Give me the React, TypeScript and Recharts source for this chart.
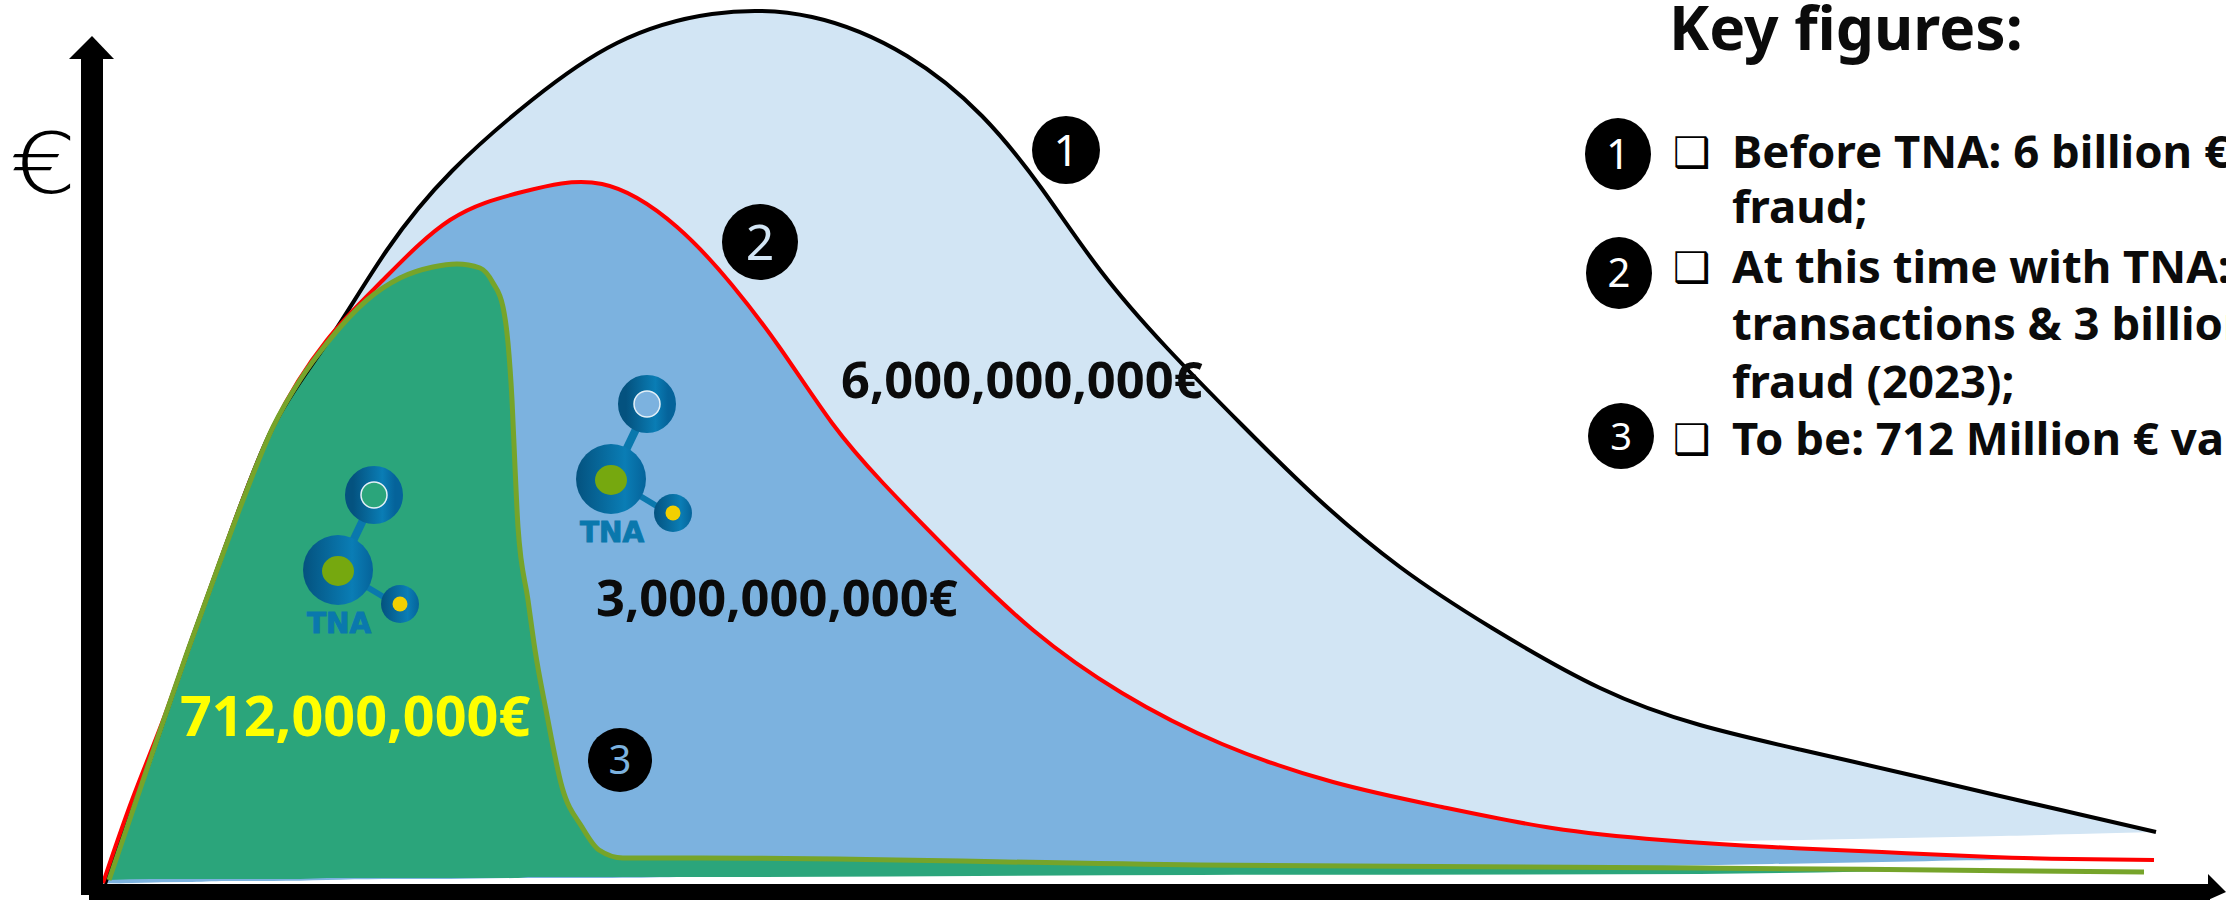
import { Area, ComposedChart, Line, ReferenceLine, XAxis, YAxis } from 'recharts';

const WIDTH = 2226;
const HEIGHT = 900;

// Time runs along x, fraud value up y (arbitrary units, the source has no scale).
const beforeTime = [13, 58, 96, 135, 181, 235, 295, 360, 440, 525, 620, 720, 815, 890, 950, 1008, 1075, 1150, 1225, 1308, 1400, 1508, 1608, 1710, 1810, 1908, 1986, 2064];
const beforeValue = [8, 132, 242, 350, 465, 549, 642, 721, 792, 849, 878, 875, 836, 776, 703, 622, 544, 467, 394, 325, 264, 204, 167, 142, 119, 96, 78, 60];
const beforeFloor = [8, 9, 10, 12, 13, 14, 16, 17, 19, 21, 24, 26, 28, 31, 33, 34, 37, 39, 41, 42, 44, 46, 50, 52, 54, 56, 58, 60];

const nowTime = [11, 40, 70, 96, 135, 181, 235, 291, 358, 430, 510, 585, 640, 688, 740, 791, 860, 941, 1030, 1130, 1241, 1350, 1460, 1570, 1680, 1790, 1900, 1980, 2062];
const nowValue = [9, 92, 169, 242, 350, 465, 552, 612, 672, 700, 708, 665, 607, 544, 469, 409, 338, 262, 199, 148, 110, 85, 64, 52, 45, 40, 35, 33, 32];
const nowFloor = [9, 9, 10, 10, 11, 11, 12, 13, 13, 14, 14, 15, 16, 16, 17, 17, 18, 19, 20, 21, 22, 23, 25, 26, 28, 30, 32, 32, 32];

const tobeTime = [17, 58, 96, 125, 151, 181, 208, 235, 275, 308, 341, 365, 388, 401, 411, 416, 420, 423, 426, 436, 443, 454, 470, 490, 507, 531, 608, 1108, 1608, 1843, 2052];
const tobeValue = [12, 132, 242, 322, 392, 465, 512, 549, 592, 614, 625, 628, 624, 609, 585, 549, 492, 425, 365, 292, 242, 182, 105, 65, 42, 34, 34, 27, 24, 22, 20];
const tobeFloor = [12, 13, 13, 13, 13, 13, 13, 14, 14, 14, 14, 14, 14, 14, 14, 14, 14, 14, 14, 15, 15, 15, 15, 15, 15, 15, 15, 17, 18, 21, 20];

const toRows = (time: number[], value: number[], floor: number[]) =>
  time.map((t, i) => ({ t, value: value[i], floor: floor[i] }));

const beforeRows = toRows(beforeTime, beforeValue, beforeFloor);
const nowRows = toRows(nowTime, nowValue, nowFloor);
const tobeRows = toRows(tobeTime, tobeValue, tobeFloor);

const band = (d: { value: number; floor: number }) => [d.floor, d.value];

const bodyFont = '"Noto Sans", sans-serif';

function Badge({ cx, cy, rx, ry, n, color = '#fff', size = 42 }: { cx: number; cy: number; rx: number; ry: number; n: string; color?: string; size?: number }) {
  return (
    <g>
      <ellipse cx={cx} cy={cy} rx={rx} ry={ry} fill="#000" />
      <text x={cx} y={cy + size * 0.357} textAnchor="middle" fontSize={size} fill={color} fontFamily={bodyFont}>
        {n}
      </text>
    </g>
  );
}

function Logo({ dx, dy }: { dx: number; dy: number }) {
  return (
    <g transform={`translate(${dx} ${dy})`}>
      <line x1={626} y1={450} x2={638} y2={425} stroke="#0a78ad" strokeWidth={8} />
      <line x1={640} y1={496} x2={660} y2={508} stroke="#0a78ad" strokeWidth={6} />
      <circle cx={647} cy={404} r={21} fill="none" stroke="url(#tnaBlue)" strokeWidth={16} />
      <circle cx={647} cy={404} r={13} fill="none" stroke="#e4f0f8" strokeWidth={1.5} />
      <circle cx={611} cy={479} r={35} fill="url(#tnaBlue)" />
      <ellipse cx={611} cy={480} rx={16} ry={15} fill="#76a80f" />
      <circle cx={673} cy={513} r={19} fill="url(#tnaBlue)" />
      <circle cx={673} cy={513} r={7.5} fill="#f2d000" />
      <text x={612} y={542} textAnchor="middle" fontSize={28} fontWeight={700} fill="#0a78ad" stroke="#0a78ad" strokeWidth={1} fontFamily="'DejaVu Sans', sans-serif">
        TNA
      </text>
    </g>
  );
}

export default function App() {
  return (
    <div style={{ position: 'absolute', left: 0, top: 0, width: WIDTH, height: HEIGHT, overflow: 'hidden', background: '#fff' }}>
      <ComposedChart width={WIDTH} height={HEIGHT} margin={{ top: 0, right: 0, bottom: 8, left: 92 }}>
        <XAxis type="number" dataKey="t" domain={[0, 2134]} hide />
        <YAxis type="number" domain={[0, 892]} hide />
        <Area data={beforeRows} dataKey={band} type="natural" fill="#d2e5f4" fillOpacity={1} stroke="none" isAnimationActive={false} />
        <Area data={nowRows} dataKey={band} type="natural" fill="#7cb2df" fillOpacity={1} stroke="none" isAnimationActive={false} />
        <Line data={beforeRows} dataKey="value" type="natural" stroke="#000" strokeWidth={4} dot={false} isAnimationActive={false} />
        <Line data={nowRows} dataKey="value" type="natural" stroke="#ff0000" strokeWidth={4} dot={false} isAnimationActive={false} />
        <Area data={tobeRows} dataKey={band} type="monotone" fill="#2ba57b" fillOpacity={1} stroke="none" isAnimationActive={false} />
        <Line data={tobeRows} dataKey="value" type="monotone" stroke="#76a42a" strokeWidth={5} dot={false} isAnimationActive={false} />
        <ReferenceLine segment={[{ x: 0, y: -3 }, { x: 0, y: 833 }]} stroke="#000" strokeWidth={22} ifOverflow="visible" />
        <ReferenceLine segment={[{ x: -3, y: 0 }, { x: 2118, y: 0 }]} stroke="#000" strokeWidth={16} ifOverflow="visible" />
      </ComposedChart>

      <svg width={WIDTH} height={HEIGHT} style={{ position: 'absolute', left: 0, top: 0 }}>
        <defs>
          <linearGradient id="tnaBlue" x1="0" x2="1" y1="0" y2="0">
            <stop offset="0" stopColor="#04527f" />
            <stop offset="0.7" stopColor="#0a7db5" />
            <stop offset="1" stopColor="#05639a" />
          </linearGradient>
        </defs>
        <polygon points="92,36 114,59 69,59" fill="#000" />
        <polygon points="2208,874 2226,892 2208,900" fill="#000" />
        <text transform="translate(10 193) scale(1.25 1)" fontSize={84} fontWeight={200} fill="#000" fontFamily="'DejaVu Sans', sans-serif">€</text>

        <Logo dx={0} dy={0} />
        <Logo dx={-273} dy={91} />

        <Badge cx={1066} cy={150} rx={34} ry={34} n="1" size={44} />
        <Badge cx={760} cy={242} rx={38} ry={38} n="2" color="#d2e5f4" size={50} />
        <Badge cx={620} cy={760} rx={32} ry={32} n="3" color="#7cb2df" size={40} />

        <g fontFamily={bodyFont} fontWeight={700}>
          <text x={841} y={398} fontSize={50.6} fill="#0b0b0b">6,000,000,000€</text>
          <text x={596} y={616} fontSize={50.6} fill="#0b0b0b">3,000,000,000€</text>
          <text x={180} y={736} fontSize={55.7} fill="#ffff00">712,000,000€</text>

          <text x={1669} y={50} fontSize={60.5} fill="#0b0b0b">Key figures:</text>
          <text x={1732} y={168} fontSize={45.5} fill="#0b0b0b">Before TNA: 6 billion € value</text>
          <text x={1732} y={223} fontSize={45.5} fill="#0b0b0b">fraud;</text>
          <text x={1732} y={283} fontSize={45.5} fill="#0b0b0b">At this time with TNA:</text>
          <text x={1732} y={340} fontSize={45.5} fill="#0b0b0b">transactions &amp; 3 billion</text>
          <text x={1732} y={398} fontSize={45.5} fill="#0b0b0b">fraud (2023);</text>
          <text x={1732} y={455} fontSize={45.5} fill="#0b0b0b">To be: 712 Million € value</text>
        </g>

        <g fontFamily="'DejaVu Sans', sans-serif" fontSize={42} fill="#000">
          <text x={1673} y={167}>❑</text>
          <text x={1673} y={282}>❑</text>
          <text x={1673} y={454}>❑</text>
        </g>

        <Badge cx={1618} cy={154} rx={33} ry={36} n="1" />
        <Badge cx={1619} cy={273} rx={33} ry={36} n="2" size={40} />
        <Badge cx={1621} cy={436} rx={33} ry={33} n="3" size={38} />
      </svg>
    </div>
  );
}
